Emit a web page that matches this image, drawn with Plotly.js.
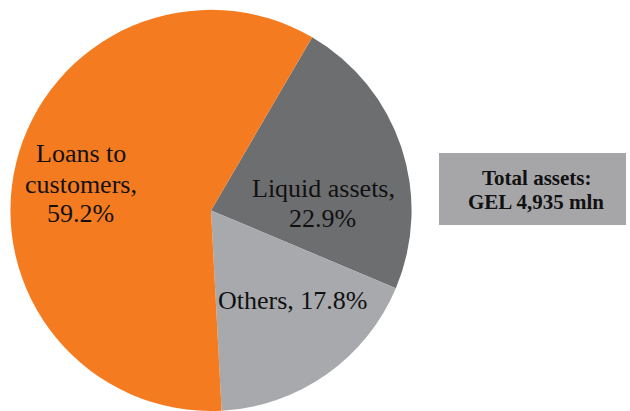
<!DOCTYPE html>
<html>
<head>
<meta charset="utf-8">
<script src="https://cdn.plot.ly/plotly-3.0.1.min.js"></script>
<style>html,body{margin:0;padding:0;background:#fff;}#chart{width:630px;height:411px;}</style>
</head>
<body>
<div id="chart"></div>
<script>
const categories = ["Liquid assets", "Others", "Loans to customers"];
const shares = [22.9, 17.8, 59.2];
const sliceColors = ["#6D6E70", "#A7A9AC", "#F47B20"];
const labelLines = [["Liquid assets,"], ["Others,"], ["Loans to", "customers,"]];
const totalLabel = ["Total assets:", "GEL 4,935 mln"];

const SERIF = "'Liberation Serif', 'Times New Roman', serif";
const W = 630, H = 411;

// baseline pixel positions of each text line (layout only)
const labelLayout = [
  {x: [323, 322], base: [197, 227]},
  {x: [292], base: [309]},
  {x: [81, 81, 80], base: [162, 193, 222]}
];

const annotations = [];
function addLine(text, px, base, size, bold) {
  annotations.push({
    xref: "paper", yref: "paper", x: px / W, y: 1 - (base - 0.32 * size) / H,
    xanchor: "center", yanchor: "middle", showarrow: false,
    text: bold ? "<b>" + text + "</b>" : text,
    font: {family: SERIF, size: size, color: "#111"}
  });
}

categories.forEach((c, i) => {
  const pct = shares[i].toFixed(1) + "%";
  let lines;
  if (i === 1) lines = [labelLines[i][0] + " " + pct];
  else lines = labelLines[i].concat([pct]);
  lines.forEach((t, j) => addLine(t, labelLayout[i].x[j], labelLayout[i].base[j], 26, false));
});

addLine(totalLabel[0], 536, 185, 21, true);
addLine(totalLabel[1], 536, 209, 21, true);

const data = [{
  type: "pie",
  labels: categories,
  values: shares,
  sort: false,
  direction: "clockwise",
  rotation: 30.3,
  textinfo: "none",
  hoverinfo: "none",
  marker: {colors: sliceColors, line: {width: 0}},
  domain: {x: [10/630, 412/630], y: [0, 0.976]},
  showlegend: false
}];

const layout = {
  width: W, height: H,
  margin: {l: 0, r: 0, t: 0, b: 0},
  paper_bgcolor: "#fff",
  showlegend: false,
  annotations: annotations,
  shapes: [{
    type: "rect", xref: "paper", yref: "paper",
    x0: 439/W, x1: 626/W, y0: 1 - 225/H, y1: 1 - 153/H,
    fillcolor: "#A6A6A8", line: {width: 0}, layer: "below"
  }]
};

Plotly.newPlot("chart", data, layout, {displayModeBar: false, staticPlot: true});
</script>
</body>
</html>
